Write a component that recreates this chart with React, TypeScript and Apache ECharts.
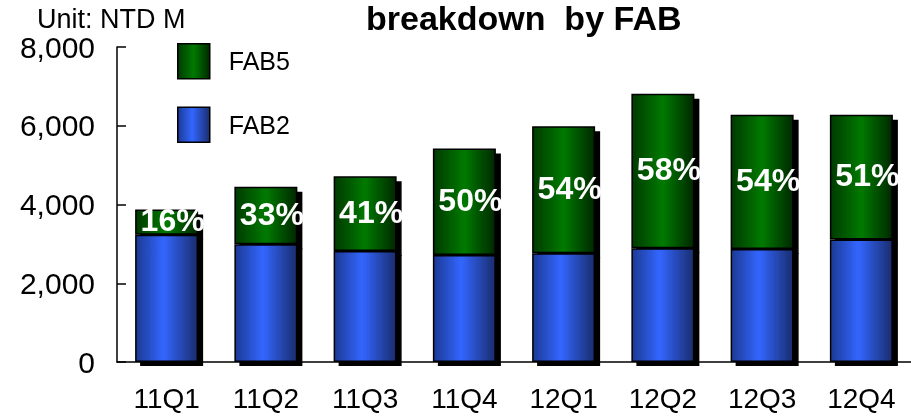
import React, { useEffect, useRef } from "react";
import * as echarts from "echarts";

const categories = ["11Q1", "11Q2", "11Q3", "11Q4", "12Q1", "12Q2", "12Q3", "12Q4"];
const fab2 = [3230, 2990, 2820, 2720, 2760, 2890, 2870, 3110];
const fab5 = [640, 1460, 1900, 2700, 3230, 3920, 3410, 3170];
const fab5Share = ["16%", "33%", "41%", "50%", "54%", "58%", "54%", "51%"];
const yTicks = [0, 2000, 4000, 6000, 8000];

const FONT = "'Liberation Sans', Arial, Helvetica, sans-serif";

export default function App() {
  const ref = useRef<HTMLDivElement>(null);
  useEffect(() => {
    if (!ref.current) return;
    const chart = echarts.init(ref.current, null, { renderer: "svg" });
    const blue = new echarts.graphic.LinearGradient(0, 0, 1, 0, [
      { offset: 0, color: "#1c3a94" },
      { offset: 0.45, color: "#3366ff" },
      { offset: 1, color: "#1a2d6e" },
    ]);
    const green = new echarts.graphic.LinearGradient(0, 0, 1, 0, [
      { offset: 0, color: "#003a00" },
      { offset: 0.5, color: "#007a00" },
      { offset: 1, color: "#002800" },
    ]);
    chart.setOption({
      animation: false,
      textStyle: { fontFamily: FONT },
      title: {
        text: "breakdown  by FAB",
        left: 366,
        top: 1,
        padding: 0,
        textStyle: { fontFamily: FONT, fontSize: 34, fontWeight: "bold", color: "#000", lineHeight: 34 },
      },
      graphic: [
        {
          type: "text",
          left: 37,
          top: 5,
          style: { text: "Unit: NTD M", fontFamily: FONT, fontSize: 27, fill: "#000" },
        },
      ],
      legend: {
        orient: "vertical",
        left: 177,
        top: 43,
        padding: 0,
        itemWidth: 32,
        itemHeight: 35,
        itemGap: 27,
        icon: "rect",
        data: ["FAB5", "FAB2"],
        itemStyle: { borderColor: "#000", borderWidth: 1.5, shadowBlur: 0, shadowOffsetX: 0, shadowOffsetY: 0, shadowColor: "transparent" },
        textStyle: { fontFamily: FONT, fontSize: 25, color: "#000", padding: [0, 0, 8, 14] },
      },
      grid: { left: 117, right: 0, top: 47, bottom: 56, containLabel: false },
      xAxis: {
        type: "category",
        data: categories,
        axisLine: { lineStyle: { color: "#000", width: 1.5 } },
        axisTick: { show: false },
        axisLabel: { fontFamily: FONT, fontSize: 28, color: "#000", margin: 22 },
      },
      yAxis: {
        type: "value",
        min: yTicks[0],
        max: yTicks[yTicks.length - 1],
        interval: yTicks[1] - yTicks[0],
        splitLine: { show: false },
        axisLine: { show: true, lineStyle: { color: "#000", width: 1.5 } },
        axisTick: { show: true, inside: true, length: 9, lineStyle: { color: "#000", width: 1.5 } },
        axisLabel: {
          fontFamily: FONT,
          fontSize: 30,
          color: "#000",
          margin: 22,
          formatter: (v: number) => v.toLocaleString("en-US"),
        },
      },
      series: [
        {
          name: "FAB2",
          type: "bar",
          stack: "total",
          z: 3,
          barWidth: 63,
          data: fab2,
          itemStyle: {
            color: blue,
            borderColor: "#000",
            borderWidth: 1.5,
            shadowColor: "#000",
            shadowBlur: 0,
            shadowOffsetX: 5,
            shadowOffsetY: 4,
          },
        },
        {
          name: "FAB5",
          type: "bar",
          stack: "total",
          z: 2,
          barWidth: 63,
          data: fab5,
          itemStyle: {
            color: green,
            borderColor: "#000",
            borderWidth: 1.5,
            shadowColor: "#000",
            shadowBlur: 0,
            shadowOffsetX: 5,
            shadowOffsetY: 5,
          },
          label: {
            show: true,
            position: "inside",
            offset: [6, -2],
            formatter: (p: any) => fab5Share[p.dataIndex],
            color: "#fff",
            fontFamily: FONT,
            fontSize: 32,
            fontWeight: "bold",
            textBorderWidth: 0,
          },
        },
      ],
    });
    return () => chart.dispose();
  }, []);
  return <div ref={ref} style={{ width: 911, height: 418, position: "fixed", left: 0, top: 0 }} />;
}
